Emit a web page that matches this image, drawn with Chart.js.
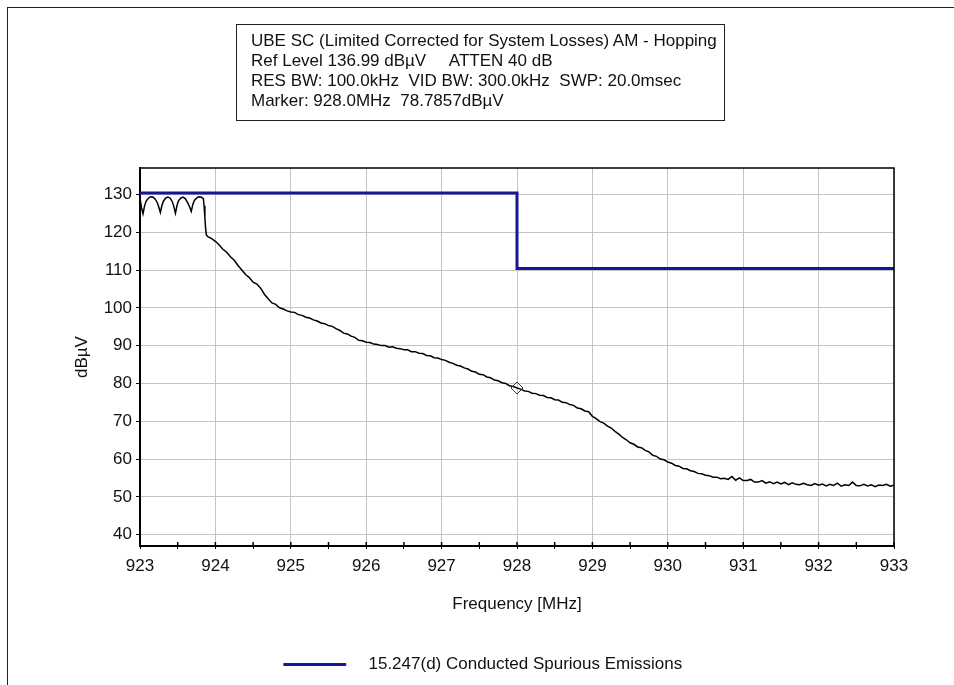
<!DOCTYPE html>
<html><head><meta charset="utf-8">
<script src="https://cdn.jsdelivr.net/npm/chart.js@4.4.1/dist/chart.umd.min.js"></script>
<style>
html,body{margin:0;padding:0;background:#fff;}
#wrap{position:relative;width:954px;height:685px;overflow:hidden;background:#fff;}
#frame{position:absolute;left:7px;top:7px;width:1000px;height:1000px;border-left:1px solid #222;border-top:1px solid #222;}
#hdr{position:absolute;left:236px;top:24px;width:489px;height:97px;border:1px solid #222;box-sizing:border-box;font:17px "Liberation Sans",Arial,sans-serif;line-height:20px;padding:6px 0 0 14px;color:#111;white-space:pre;}
canvas{position:absolute;left:0;top:0;}
</style></head>
<body>
<div id="wrap">
<div id="frame"></div>
<canvas id="c" width="954" height="685"></canvas>
<div id="hdr"></div>
</div>
<script>
// ---- data ----
const headerLines = [
  "UBE SC (Limited Corrected for System Losses) AM - Hopping",
  "Ref Level 136.99 dB\u00B5V     ATTEN 40 dB",
  "RES BW: 100.0kHz  VID BW: 300.0kHz  SWP: 20.0msec",
  "Marker: 928.0MHz  78.7857dB\u00B5V"
];
const limitLabel = "15.247(d) Conducted Spurious Emissions";
const xTitle = "Frequency [MHz]";
const yTitle = "dB\u00B5V";

const limitFreq  = [923, 928, 928, 933];
const limitLevel = [130.4, 130.4, 110.4, 110.4];

const markerFreq  = [928.0];
const markerLevel = [78.7857];

const xTickValues = [923,923.5,924,924.5,925,925.5,926,926.5,927,927.5,928,928.5,929,929.5,930,930.5,931,931.5,932,932.5,933];
const yTickValues = [40,45,50,55,60,65,70,75,80,85,90,95,100,105,110,115,120,125,130,135];
const yMin = 36.99, yMax = 136.99;
const xMin = 923, xMax = 933;

const traceFreq = [
923.00,923.02,923.04,923.06,923.08,923.11,923.14,923.17,923.20,923.23,923.25,923.27,
923.29,923.31,923.34,923.37,923.40,923.43,923.45,923.47,923.49,923.51,923.54,923.57,
923.60,923.63,923.66,923.68,923.70,923.72,923.75,923.78,923.81,923.84,923.85,923.86,
923.87,923.88,923.90,923.95,
924.00,924.05,924.10,924.15,924.20,924.25,924.30,924.35,924.40,924.45,
924.50,924.55,924.60,924.65,924.70,924.75,924.80,924.85,924.90,924.95,
925.00,925.05,925.10,925.15,925.20,925.25,925.30,925.35,925.40,925.45,
925.50,925.55,925.60,925.65,925.70,925.75,925.80,925.85,925.90,925.95,
926.00,926.05,926.10,926.15,926.20,926.25,926.30,926.35,926.40,926.45,
926.50,926.55,926.60,926.65,926.70,926.75,926.80,926.85,926.90,926.95,
927.00,927.05,927.10,927.15,927.20,927.25,927.30,927.35,927.40,927.45,
927.50,927.55,927.60,927.65,927.70,927.75,927.80,927.85,927.90,927.95,
928.00,928.05,928.10,928.15,928.20,928.25,928.30,928.35,928.40,928.45,
928.50,928.55,928.60,928.65,928.70,928.75,928.80,928.85,928.90,928.95,
929.00,929.05,929.10,929.15,929.20,929.25,929.30,929.35,929.40,929.45,
929.50,929.55,929.60,929.65,929.70,929.75,929.80,929.85,929.90,929.95,
930.00,930.05,930.10,930.15,930.20,930.25,930.30,930.35,930.40,930.45,
930.50,930.55,930.60,930.65,930.70,930.75,930.80,930.85,930.90,930.95,
931.00,931.05,931.10,931.15,931.20,931.25,931.30,931.35,931.40,931.45,
931.50,931.55,931.60,931.65,931.70,931.75,931.80,931.85,931.90,931.95,
932.00,932.05,932.10,932.15,932.20,932.25,932.30,932.35,932.40,932.45,
932.50,932.55,932.60,932.65,932.70,932.75,932.80,932.85,932.90,932.95,
933.00
];
const traceLevel = [
129.0,126.5,124.9,126.9,128.2,129.0,129.4,129.3,128.8,127.8,126.6,125.2,
127.0,128.2,129.0,129.3,129.0,128.0,126.7,125.0,127.0,128.3,129.0,129.3,
128.9,127.9,126.6,125.5,127.3,128.4,129.0,129.4,129.3,128.9,127.0,124.0,
121.0,119.3,118.8,118.3,
117.6,116.6,115.5,114.7,113.5,112.6,111.2,110.0,108.8,108.0,
106.8,106.3,105.2,103.6,102.4,101.3,100.9,100.0,99.7,99.2,
98.9,98.8,98.2,98.0,97.5,97.3,96.8,96.5,96.0,95.8,
95.3,95.1,94.5,94.0,93.3,93.1,92.5,92.2,91.4,91.3,
90.9,90.8,90.4,90.3,90.0,90.0,89.6,89.7,89.3,89.2,
88.9,88.9,88.4,88.4,88.0,87.9,87.4,87.3,86.8,86.7,
86.3,86.1,85.6,85.3,84.8,84.6,84.1,83.8,83.2,83.0,
82.4,82.3,81.7,81.5,80.9,80.7,80.2,80.0,79.4,79.2,
78.8,78.5,78.0,77.9,77.4,77.3,76.9,76.8,76.3,76.2,
75.7,75.6,75.0,74.9,74.4,74.2,73.5,73.3,72.7,72.5,
71.3,70.7,69.9,69.5,68.7,68.2,67.3,66.6,65.7,65.1,
64.3,63.9,63.2,63.0,62.3,61.9,61.0,60.7,60.0,59.8,
59.2,58.9,58.3,58.1,57.5,57.4,56.9,56.7,56.2,56.1,
55.7,55.6,55.2,55.2,54.8,54.9,54.6,55.4,54.4,55.0,
54.3,54.3,54.6,53.9,53.9,54.3,53.6,54.0,53.5,53.9,
53.4,53.8,53.2,53.7,53.3,53.2,53.6,53.2,53.0,53.5,
53.1,53.4,52.9,53.3,53.0,53.6,52.8,53.2,53.0,53.9,
53.0,52.9,53.3,52.9,53.2,52.7,53.1,53.0,53.3,52.8,
53.1
];

// ---- header text ----
document.getElementById('hdr').textContent = headerLines.join('\n');

const FONT = '"Liberation Sans", Arial, sans-serif';
const TXT = '#111';
const BLUE = '#16169a';

const toPts = (xs, ys) => xs.map((x, i) => ({x: x, y: ys[i]}));

// top/right frame plus tick marks reaching into the plot area
const framePlugin = {
  id: 'frame',
  afterDatasetsDraw(chart) {
    const a = chart.chartArea, ctx = chart.ctx;
    const xs = chart.scales.x, ys = chart.scales.y;
    ctx.save();
    ctx.strokeStyle = '#000';
    ctx.lineWidth = 1.5;
    ctx.beginPath();
    ctx.moveTo(a.left, a.top); ctx.lineTo(a.right, a.top); ctx.lineTo(a.right, a.bottom);
    ctx.stroke();
    ctx.lineWidth = 1.5;
    ctx.beginPath();
    xs.ticks.forEach(t => {
      const px = xs.getPixelForValue(t.value);
      ctx.moveTo(px, a.bottom); ctx.lineTo(px, a.bottom - 4);
    });
    ys.ticks.forEach(t => {
      if (t.value % 10 !== 0) {
        const py = ys.getPixelForValue(t.value);
        ctx.moveTo(a.left, py); ctx.lineTo(a.left + 4, py);
      }
    });
    ctx.stroke();
    ctx.restore();
  }
};

new Chart(document.getElementById('c'), {
  type: 'line',
  data: {
    datasets: [
      {
        label: limitLabel,
        data: toPts(limitFreq, limitLevel),
        borderColor: BLUE, backgroundColor: BLUE,
        borderWidth: 3, pointRadius: 0, tension: 0
      },
      {
        label: 'Marker',
        data: toPts(markerFreq, markerLevel),
        showLine: false, pointStyle: 'rectRot', pointRadius: 6,
        borderColor: '#333', borderWidth: 1, backgroundColor: 'rgba(255,255,255,0)'
      },
      {
        label: 'Trace',
        data: toPts(traceFreq, traceLevel),
        borderColor: '#000', backgroundColor: '#000',
        borderWidth: 1.5, pointRadius: 0, tension: 0
      }
    ]
  },
  options: {
    responsive: false, animation: false, devicePixelRatio: 1,
    layout: { padding: { left: 72, right: 60, top: 168, bottom: 2 } },
    plugins: {
      tooltip: { enabled: false },
      legend: {
        position: 'bottom',
        labels: {
          color: TXT, font: { family: FONT, size: 17 },
          boxWidth: 62, boxHeight: 2, padding: 10,
          filter: (it) => it.datasetIndex === 0,
          generateLabels: (chart) => Chart.defaults.plugins.legend.labels.generateLabels(chart).map(l => {
            l.text = '   ' + l.text; l.lineWidth = 1; return l;
          })
        }
      }
    },
    scales: {
      x: {
        type: 'linear', min: xMin, max: xMax,
        afterBuildTicks: (s) => { s.ticks = xTickValues.map(v => ({ value: v })); },
        afterFit: (s) => { s.height = 100; },
        ticks: {
          autoSkip: false, maxRotation: 0, padding: 7, color: TXT,
          font: { family: FONT, size: 17 },
          callback: (v) => (v % 1 === 0 ? String(v) : '')
        },
        grid: {
          color: (c) => (c.tick && c.tick.value % 1 === 0 ? '#c4c4c4' : 'rgba(0,0,0,0)'),
          lineWidth: 1, tickColor: '#000', tickLength: 3, drawTicks: true
        },
        border: { color: '#000', width: 2 },
        title: { display: true, text: xTitle, color: TXT, font: { family: FONT, size: 17 }, padding: { top: 0, bottom: 31 } }
      },
      y: {
        type: 'linear', min: yMin, max: yMax,
        afterBuildTicks: (s) => { s.ticks = yTickValues.map(v => ({ value: v })); },
        afterFit: (s) => { s.width = 68; },
        ticks: {
          padding: 4, color: TXT, font: { family: FONT, size: 17 },
          callback: (v) => (v % 10 === 0 ? String(v) : '')
        },
        grid: {
          color: (c) => (c.tick && c.tick.value % 10 === 0 ? '#c4c4c4' : 'rgba(0,0,0,0)'),
          lineWidth: 1, tickColor: '#000', tickLength: 4, drawTicks: true
        },
        border: { color: '#000', width: 2 },
        title: { display: true, text: yTitle, color: TXT, font: { family: FONT, size: 17 }, padding: { top: 0, bottom: 0 } }
      }
    }
  },
  plugins: [framePlugin]
});
</script>
</body></html>
